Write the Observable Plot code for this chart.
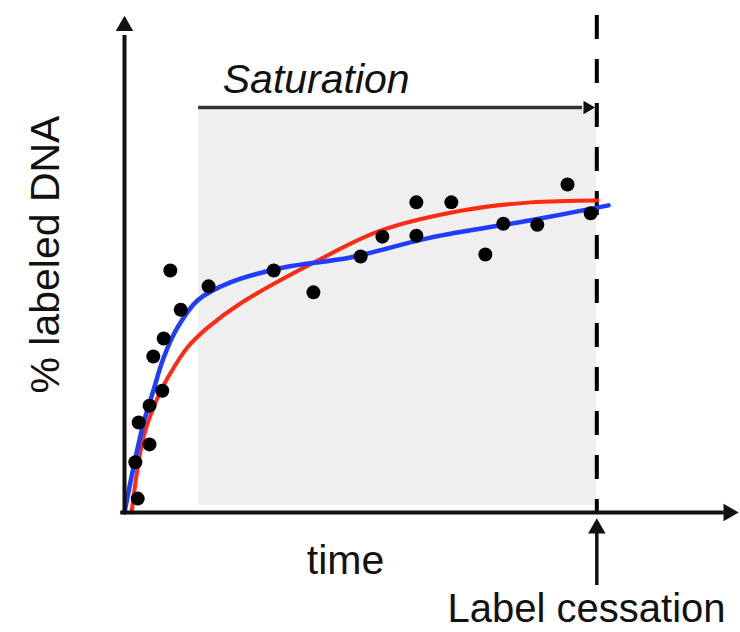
<!DOCTYPE html>
<html>
<head>
<meta charset="utf-8">
<script src="https://cdn.jsdelivr.net/npm/d3@7"></script>
<script src="https://cdn.jsdelivr.net/npm/@observablehq/plot@0.6"></script>
<style>
  html, body { margin: 0; padding: 0; background: #fff; }
  #chart svg { display: block; }
</style>
</head>
<body>
<div id="chart"></div>
<script>
// Observed data points (time, % labeled DNA)
const dotTime = [0.28, 0.23, 0.53, 0.30, 0.53, 0.80, 0.61, 0.83, 1.19, 0.97, 1.78, 3.16, 4.00, 5.00, 5.46, 6.18, 6.18, 6.92, 7.64, 8.02, 8.74, 9.38, 9.87];
const dotValue = [2.8, 10.1, 13.7, 18.1, 21.5, 24.5, 31.4, 35.0, 40.8, 48.7, 45.5, 48.7, 44.3, 51.5, 55.5, 62.4, 55.7, 62.4, 51.9, 58.1, 57.9, 66.0, 60.2];

// Red fitted curve
const redTime = [0.15, 0.40, 0.70, 0.97, 1.33, 1.76, 2.46, 4.09, 5.42, 7.18, 8.60, 10.01];
const redValue = [0, 15.1, 23.1, 28.0, 33.2, 37.2, 42.1, 50.7, 56.7, 60.8, 62.4, 62.8];

// Blue fitted curve
const blueTime = [0, 0.19, 0.40, 0.61, 0.83, 1.12, 1.55, 2.24, 3.37, 4.78, 6.48, 8.60, 10.25];
const blueValue = [0, 9.1, 17.9, 24.5, 31.2, 37.2, 42.7, 46.3, 49.3, 51.3, 55.3, 58.8, 61.8];

// Phases / annotations
const saturationStart = 1.57;
const labelCessation = 10;
const texts = ["Saturation", "time", "Label cessation", "% labeled DNA"];

const dots = dotTime.map((t, i) => ({t, v: dotValue[i]}));
const red = redTime.map((t, i) => ({t, v: redValue[i]}));
const blue = blueTime.map((t, i) => ({t, v: blueValue[i]}));

const font = "'Liberation Sans', Arial, sans-serif";

const chart = Plot.plot({
  width: 740,
  height: 632,
  marginLeft: 124,
  marginRight: 2,
  marginTop: 15,
  marginBottom: 120,
  x: {domain: [0, 13], axis: null},
  y: {domain: [0, 100], axis: null},
  style: {fontFamily: font, background: "#fff", overflow: "visible"},
  marks: [
    // saturation shaded region
    Plot.rect([{}], {x1: saturationStart, x2: labelCessation, y1: 1.4, y2: 81, fill: "#efefef"}),
    // saturation arrow
    Plot.ruleY([81.5], {x1: saturationStart, x2: 9.7, stroke: "#333", strokeWidth: 3.5}),
    Plot.dot([{}], {x: 9.8, y: 81.5, symbol: "triangle", r: 5, rotate: 90, fill: "#111", stroke: null}),
    Plot.text([texts[0]], {x: 2.08, y: 87, text: d => d, textAnchor: "start", fontSize: 41, fontStyle: "italic", fill: "#111"}),
    // label cessation dashed line
    Plot.ruleX([labelCessation], {y1: 100, y2: 0, stroke: "#000", strokeWidth: 4, strokeDasharray: "24,20"}),
    // fitted curves
    Plot.line(red, {x: "t", y: "v", stroke: "#ff2a12", strokeWidth: 4, curve: "catmull-rom"}),
    Plot.line(blue, {x: "t", y: "v", stroke: "#1f3dff", strokeWidth: 4.5, curve: "catmull-rom"}),
    // data points
    Plot.dot(dots, {x: "t", y: "v", r: 7, fill: "#000", stroke: null}),
    // axes
    Plot.ruleY([0], {x1: -0.08, x2: 12.7, stroke: "#111", strokeWidth: 4}),
    Plot.dot([{}], {x: 12.79, y: 0, symbol: "triangle", r: 6.5, rotate: 90, fill: "#111", stroke: null}),
    Plot.ruleX([0], {y1: -0.3, y2: 96, stroke: "#111", strokeWidth: 4}),
    Plot.dot([{}], {x: 0, y: 97.9, symbol: "triangle", r: 6.5, fill: "#111", stroke: null}),
    // label cessation arrow
    Plot.ruleX([labelCessation], {y1: -14.7, y2: -3.5, stroke: "#111", strokeWidth: 3.5}),
    Plot.dot([{}], {x: labelCessation, y: -3.2, symbol: "triangle", r: 6.5, fill: "#111", stroke: null}),
    // texts
    Plot.text([texts[1]], {x: 4.68, y: -9.7, text: d => d, fontSize: 41, fill: "#111"}),
    Plot.text([texts[2]], {x: 6.84, y: -19.5, text: d => d, textAnchor: "start", fontSize: 40, fill: "#111"}),
    Plot.text([texts[3]], {x: -1.67, y: 51.9, text: d => d, rotate: -90, fontSize: 41, fill: "#111"})
  ]
});
document.getElementById("chart").append(chart);
</script>
</body>
</html>
